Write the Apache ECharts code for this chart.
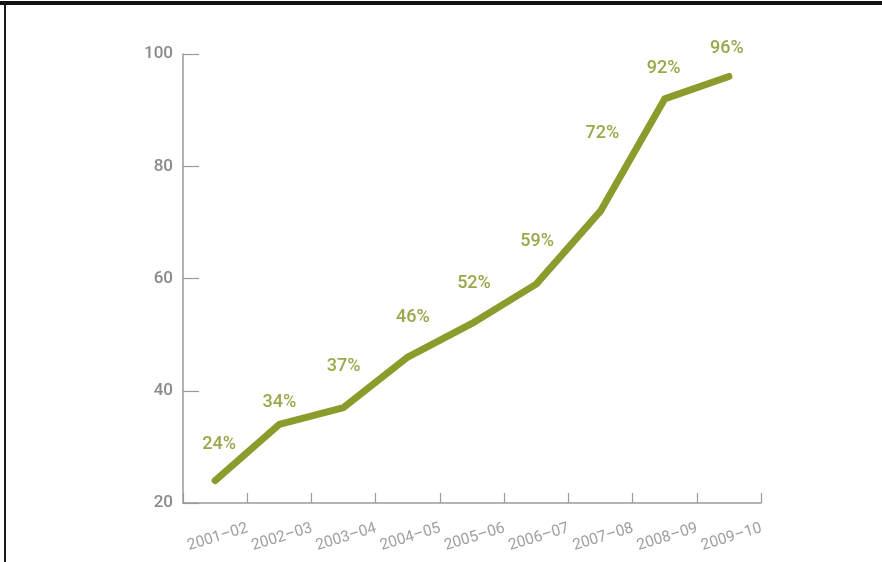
<!DOCTYPE html>
<html>
<head>
<meta charset="utf-8">
<style>
  html, body { margin: 0; padding: 0; background: #ffffff; }
  #chart { width: 882px; height: 562px; }
</style>
<script src="https://cdn.jsdelivr.net/npm/echarts@6/dist/echarts.min.js"></script>
</head>
<body>
<div id="chart"></div>
<script>
// School years on the horizontal axis
const years = ['2001–02', '2002–03', '2003–04', '2004–05', '2005–06',
               '2006–07', '2007–08', '2008–09', '2009–10'];
// Share per year, in percent
const shares = [24, 34, 37, 46, 52, 59, 72, 92, 96];
// Vertical axis range and step
const yMin = 20;
const yMax = 100;
const yStep = 20;

// Per-point nudges for the value labels: [dx, lift above the point]
const labelNudge = [[4, 38], [0, 23], [0, 43], [5, 41], [2, 41],
                    [1, 44], [2, 79], [-1, 32], [-2, 29]];

const lineColor = '#8d9b2c';
const labelColor = '#9ea64c';
const axisColor = '#9a9a9a';

const seriesData = shares.map((v, i) => ({
  value: v,
  label: { offset: [labelNudge[i][0], -(labelNudge[i][1] - 11)] }
}));

const chart = echarts.init(document.getElementById('chart'), null, { renderer: 'canvas' });
chart.setOption({
  backgroundColor: '#ffffff',
  animation: false,
  grid: { left: 183, right: 121, top: 54, bottom: 59, containLabel: false },
  graphic: [
    { type: 'rect', shape: { x: 0, y: 1, width: 882, height: 4 },
      style: { fill: '#111111' }, silent: true },
    { type: 'rect', shape: { x: 4, y: 3, width: 2, height: 560 },
      style: { fill: '#1a1a1a' }, silent: true }
  ],
  xAxis: {
    type: 'category',
    data: years,
    boundaryGap: true,
    axisLine: { show: true, lineStyle: { color: axisColor, width: 1.5 } },
    axisTick: { show: true, inside: true, length: 10,
                lineStyle: { color: axisColor, width: 1.2 } },
    axisLabel: {
      interval: 0,
      rotate: 17,
      margin: 35,
      padding: [0, -34, 0, 0],
      color: '#a0a0a0',
      fontFamily: 'Roboto, "Liberation Sans", sans-serif',
      fontSize: 15.5
    },
    splitLine: { show: false }
  },
  yAxis: {
    type: 'value',
    min: yMin,
    max: yMax,
    interval: yStep,
    axisLine: { show: true, lineStyle: { color: axisColor, width: 1.5 } },
    axisTick: { show: true, inside: true, length: 16,
                lineStyle: { color: axisColor, width: 1.2 } },
    axisLabel: {
      margin: 10,
      color: '#8a8a8a',
      fontFamily: 'Roboto, "Liberation Sans", sans-serif',
      fontWeight: 500,
      fontSize: 17
    },
    splitLine: { show: false }
  },
  series: [{
    type: 'line',
    data: seriesData,
    symbol: 'circle',
    symbolSize: 1,
    showSymbol: true,
    itemStyle: { color: lineColor },
    smooth: false,
    lineStyle: { color: lineColor, width: 7, cap: 'round', join: 'round' },
    label: {
      show: true,
      position: 'top',
      distance: 0,
      formatter: p => p.value + '%',
      color: labelColor,
      fontFamily: 'Roboto, "Liberation Sans", sans-serif',
      fontWeight: 500,
      fontSize: 18
    }
  }]
});
</script>
</body>
</html>
